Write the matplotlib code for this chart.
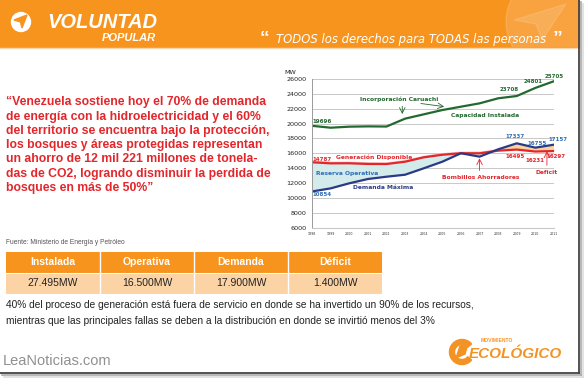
import matplotlib
matplotlib.use("Agg")
import matplotlib.pyplot as plt
from matplotlib.patches import Rectangle, Circle, Polygon, Wedge
import numpy as np

# datos del grafico
years = [1998, 1999, 2000, 2001, 2002, 2003, 2004, 2005, 2006, 2007, 2008, 2009, 2010, 2011]
capacidad = [19696, 19440, 19580, 19620, 19600, 20660, 21240, 21820, 22270, 22720, 23400, 23708, 24801, 25705]
generacion = [14787, 14640, 14650, 14560, 14550, 14860, 15450, 15800, 16000, 15990, 16350, 16495, 16231, 16297]
demanda = [10854, 11270, 11950, 12530, 12840, 13110, 13970, 14860, 16000, 15540, 16530, 17337, 16755, 17157]

tabla_titulos = ["Instalada", "Operativa", "Demanda", "Déficit"]
tabla_valores = ["27.495MW", "16.500MW", "17.900MW", "1.400MW"]

cita = ["“Venezuela sostiene hoy el 70% de demanda",
        "de energía con la hidroelectricidad y el 60%",
        "del territorio se encuentra bajo la protección,",
        "los bosques y áreas protegidas representan",
        "un ahorro de 12 mil 221 millones de tonela-",
        "das de CO2, logrando disminuir la perdida de",
        "bosques en más de 50%”"]
parrafo = ["40% del proceso de generación está fuera de servicio en donde se ha invertido un 90% de los recursos,",
           "mientras que las principales fallas se deben a la distribución en donde se invirtió menos del 3%"]

NARANJA = '#F7941E'
ROJO = '#E3262B'
VERDE = '#23692F'
AZUL = '#2B3A86'
AZUL2 = '#2F6DB8'

W, H = 584, 379
fig = plt.figure(figsize=(W / 100, H / 100), dpi=100)
fig.patch.set_facecolor('white')

# capa de fondo en pixeles
ax0 = fig.add_axes([0, 0, 1, 1])
ax0.set_xlim(0, W)
ax0.set_ylim(H, 0)
ax0.axis('off')

# cabecera naranja
ax0.add_patch(Rectangle((0, 0), 579, 47, color=NARANJA, zorder=1))
circ = Circle((556, 22), 50, color='white', alpha=0.15, zorder=2)
ax0.add_patch(circ)
circ.set_clip_path(Rectangle((0, 0), 579, 47, transform=ax0.transData))
flecha = Polygon([(514, 20), (566, 4), (542, 40), (536, 24)], closed=True,
                 color='white', alpha=0.13, zorder=2)
ax0.add_patch(flecha)
ax0.plot([0, 579], [48, 48], color='#FBD7B0', lw=1, zorder=2)

# logo voluntad popular
ax0.add_patch(Circle((21, 22), 9.5, color='white', zorder=3))
ax0.add_patch(Polygon([(14, 20), (27, 15), (22, 28), (20.5, 22)], closed=True,
                      color=NARANJA, zorder=4))
ax0.text(47, 22, "VOLUNTAD", fontsize=14.5, fontweight='bold', style='italic',
         color='white', family='Liberation Sans', va='center', ha='left', zorder=4)
ax0.text(156, 38, "POPULAR", fontsize=8, fontweight='bold', style='italic',
         color='white', family='Liberation Sans', va='center', ha='right', zorder=4)
ax0.text(260, 39, "“", fontsize=14, fontweight='bold', color='white',
         family='Liberation Sans', va='center', ha='left', zorder=4)
ax0.text(546, 40, "TODOS los derechos para TODAS las personas", fontsize=8.4,
         style='italic', color='white', family='DejaVu Sans',
         va='center', ha='right', zorder=4)
ax0.text(553, 39, "”", fontsize=14, fontweight='bold', color='white',
         family='Liberation Sans', va='center', ha='left', zorder=4)

# cita en rojo
for i, linea in enumerate(cita):
    ax0.text(6, 102.5 + i * 14.25, linea, fontsize=8.8, fontweight='bold',
             color=ROJO, family='Liberation Sans', va='center', ha='left')

ax0.text(6, 242, "Fuente: Ministerio de Energía y Petróleo", fontsize=4.8,
         color='#555555', family='Liberation Sans', va='center', ha='left')

# tabla
x0, ancho = 6, 94
for i in range(4):
    ax0.add_patch(Rectangle((x0 + i * ancho, 251.5), ancho, 21, color=NARANJA, lw=0))
    ax0.add_patch(Rectangle((x0 + i * ancho, 272.5), ancho, 21.5, color='#FCD3A5', lw=0))
    ax0.text(x0 + i * ancho + ancho / 2, 262, tabla_titulos[i], fontsize=7.5,
             fontweight='bold', color='white', family='Liberation Sans',
             ha='center', va='center')
    ax0.text(x0 + i * ancho + ancho / 2, 283.5, tabla_valores[i], fontsize=7.5,
             color='#222222', family='Liberation Sans', ha='center', va='center')
for i in range(1, 4):
    ax0.plot([x0 + i * ancho] * 2, [251.5, 294], color='white', lw=1)
ax0.plot([x0, x0 + 4 * ancho], [272.5, 272.5], color='white', lw=0.8)

for i, linea in enumerate(parrafo):
    ax0.text(6, 305 + i * 15.5, linea, fontsize=7.3, color='#222222',
             family='Liberation Sans', va='center', ha='left')

# logo movimiento ecologico
ax0.add_patch(Wedge((462, 352), 12.5, 40, 320, width=5, color='#F39323'))
ax0.add_patch(Polygon([(456, 358), (460, 346), (468, 344), (465, 354)], closed=True,
                      color='#F39323'))
ax0.text(481, 340, "MOVIMIENTO", fontsize=3.6, fontweight='bold', color='#F39323',
         family='Liberation Sans', va='center', ha='left')
ax0.text(469, 354, "ECOLÓGICO", fontsize=11, fontweight='bold', style='italic',
         color='#F39323', family='Liberation Sans', va='center', ha='left')

ax0.text(3, 361, "LeaNoticias.com", fontsize=10.5, color='#909090',
         family='Liberation Sans', va='center', ha='left')

# marco y sombra
ax0.plot([579, 579], [0, 373], color='#444444', lw=1.3)
ax0.plot([0, 579], [373, 373], color='#444444', lw=1.3)
ax0.plot([581, 581], [2, 375], color='#AAAAAA', lw=1.2)
ax0.plot([2, 581], [375, 375], color='#AAAAAA', lw=1.2)
ax0.plot([583, 583], [4, 377], color='#DDDDDD', lw=1.2)
ax0.plot([4, 583], [377, 377], color='#DDDDDD', lw=1.2)

# grafico
px_l, px_r, py_t, py_b = 312, 554, 79, 227.5
ax = fig.add_axes([px_l / W, 1 - py_b / H, (px_r - px_l) / W, (py_b - py_t) / H])
ax.set_facecolor('none')
ax.set_xlim(1998, 2011)
ax.set_ylim(6000, 26000)
ax.set_yticks(np.arange(6000, 26001, 2000))
ax.set_xticks(years)
ax.tick_params(axis='y', length=0, labelsize=4.6, pad=4, labelcolor='#222222')
ax.tick_params(axis='x', length=0, labelsize=2.3, pad=3, labelcolor='#333333')
ax.grid(axis='y', color='#C8C8C8', lw=0.7)
ax.set_axisbelow(True)
for s in ['top', 'right']:
    ax.spines[s].set_visible(False)
ax.spines['bottom'].set_color('#C8C8C8')
ax.spines['left'].set_color('#999999')
ax.spines['left'].set_linewidth(0.7)
ax.text(-0.09, 1.045, "MW", transform=ax.transAxes, fontsize=4.6, color='#222222',
        ha='center', va='center')

g = np.array(generacion)
d = np.array(demanda)
ax.fill_between(years, g, g + 300, color='#F5C4C0', lw=0)
ax.fill_between(years, d, g, where=g >= d, interpolate=True, color='#D3EBEA', lw=0)
ax.fill_between(years, g, d, where=d >= g, interpolate=True, color='#FAD39D', lw=0)
ax.plot(years, capacidad, color=VERDE, lw=1.6)
ax.plot(years, generacion, color=ROJO, lw=1.6)
ax.plot(years, demanda, color=AZUL, lw=1.6)

fs = 4.0
ax.text(1998, 20300, "19696", color=VERDE, fontsize=fs, fontweight='bold', ha='left', va='center')
ax.text(2011, 26270, "25705", color=VERDE, fontsize=fs, fontweight='bold', ha='center', va='center', clip_on=False)
ax.text(2009.9, 25600, "24801", color=VERDE, fontsize=fs, fontweight='bold', ha='center', va='center')
ax.text(2008.6, 24650, "23708", color=VERDE, fontsize=fs, fontweight='bold', ha='center', va='center')
ax.text(2002.7, 23300, "Incorporación Caruachi", color=VERDE, fontsize=4.3, fontweight='bold', ha='center', va='center')
ax.text(2007.27, 21150, "Capacidad Instalada", color=VERDE, fontsize=4.3, fontweight='bold', ha='center', va='center')
ax.annotate("", xy=(2002.85, 20900), xytext=(2002.85, 22700),
            arrowprops=dict(arrowstyle='->', color=VERDE, lw=0.6))
ax.annotate("", xy=(2005.25, 22230), xytext=(2003.7, 22750),
            arrowprops=dict(arrowstyle='->', color=VERDE, lw=0.6))

ax.text(1998, 15225, "14787", color=ROJO, fontsize=fs, fontweight='bold', ha='left', va='center')
ax.text(2001.36, 15500, "Generación Disponible", color=ROJO, fontsize=4.3, fontweight='bold', ha='center', va='center')
ax.text(1999.9, 13340, "Reserva Operativa", color=AZUL2, fontsize=4.3, fontweight='bold', ha='center', va='center')
ax.text(2001.8, 11450, "Demanda Máxima", color=AZUL, fontsize=4.3, fontweight='bold', ha='center', va='center')
ax.text(1998, 10380, "10854", color=AZUL2, fontsize=fs, fontweight='bold', ha='left', va='center')

ax.text(2008.9, 18190, "17337", color=AZUL2, fontsize=fs, fontweight='bold', ha='center', va='center')
ax.text(2010.1, 17300, "16755", color=AZUL2, fontsize=fs, fontweight='bold', ha='center', va='center')
ax.text(2011.24, 17785, "17157", color=AZUL2, fontsize=fs, fontweight='bold', ha='center', va='center', clip_on=False)
ax.text(2008.9, 15500, "16495", color=ROJO, fontsize=fs, fontweight='bold', ha='center', va='center')
ax.text(2010.0, 15090, "16231", color=ROJO, fontsize=fs, fontweight='bold', ha='center', va='center')
ax.text(2011.13, 15500, "16297", color=ROJO, fontsize=fs, fontweight='bold', ha='center', va='center', clip_on=False)
ax.text(2007.05, 12800, "Bombillos Ahorradores", color=ROJO, fontsize=4.3, fontweight='bold', ha='center', va='center')
ax.text(2010.62, 13470, "Deficit", color=ROJO, fontsize=4.3, fontweight='bold', ha='center', va='center')
ax.annotate("", xy=(2007, 15700), xytext=(2007, 13300),
            arrowprops=dict(arrowstyle='->', color=ROJO, lw=0.6))
ax.annotate("", xy=(2010.62, 16650), xytext=(2010.62, 14000),
            arrowprops=dict(arrowstyle='->', color=ROJO, lw=0.6))

fig.savefig("out.png", dpi=100)
